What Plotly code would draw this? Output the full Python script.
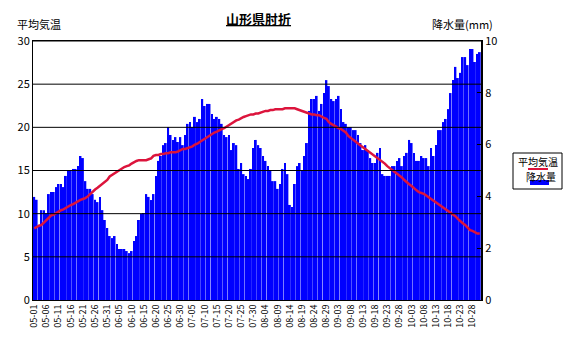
import pandas as pd
import plotly.graph_objects as go

# ---- data ----
dates = [d.strftime("%m-%d") for d in pd.date_range("2001-05-01", "2001-10-31")]

precip_mm = [
    3.98, 3.87, 2.90, 3.47, 3.47, 3.35, 4.09, 4.17, 4.17, 4.36,
    4.48, 4.48, 4.36, 4.79, 4.98, 4.98, 5.06, 5.06, 5.17, 5.56,
    5.48, 4.59, 4.29, 4.29, 4.09, 3.87, 3.78, 3.98, 3.47, 3.09,
    2.78, 2.47, 2.39, 2.47, 2.16, 1.97, 1.97, 1.97, 1.89, 1.81,
    1.89, 2.28, 2.47, 3.09, 3.32, 3.36, 4.09, 3.98, 3.86, 4.09,
    4.79, 5.37, 5.56, 5.98, 6.06, 6.68, 6.37, 6.18, 6.29, 6.10,
    6.29, 5.98, 6.37, 6.80, 6.87, 6.68, 7.07, 6.87, 6.99, 7.76,
    7.49, 7.57, 7.57, 7.18, 6.99, 7.07, 6.99, 6.80, 6.37, 6.29,
    6.37, 5.79, 6.06, 5.98, 5.06, 5.29, 4.86, 4.79, 4.67, 5.06,
    5.87, 6.18, 5.98, 5.87, 5.56, 5.37, 5.17, 4.98, 4.59, 4.59,
    4.29, 4.48, 5.06, 5.29, 4.86, 3.67, 3.59, 4.48, 5.17, 5.29,
    4.98, 5.56, 6.06, 7.30, 7.76, 7.76, 7.88, 7.30, 7.57, 7.99,
    8.49, 8.26, 7.76, 7.68, 7.76, 7.88, 7.37, 6.87, 6.80, 6.68,
    6.68, 6.56, 6.56, 6.37, 6.06, 5.79, 5.98, 5.79, 5.48, 5.29,
    5.29, 5.68, 5.87, 4.86, 4.79, 4.79, 4.79, 5.17, 5.17, 5.37,
    5.48, 5.17, 5.56, 5.68, 6.18, 6.06, 5.68, 5.37, 5.37, 5.56,
    5.48, 5.48, 5.17, 5.87, 5.56, 5.98, 6.56, 6.56, 6.87, 6.99,
    7.37, 7.99, 8.49, 9.00, 8.57, 8.77, 9.38, 9.38, 9.07, 9.69,
    9.69, 9.19, 9.50, 9.57,
]

avg_temp = [
    8.3, 8.5, 8.6, 8.7, 9.0, 9.3, 9.5, 9.8, 9.9, 10.1,
    10.2, 10.4, 10.5, 10.7, 10.8, 11.0, 11.1, 11.3, 11.5, 11.6,
    11.7, 11.8, 12.0, 12.3, 12.6, 12.8, 13.0, 13.2, 13.4, 13.6,
    13.9, 14.3, 14.5, 14.7, 14.9, 15.1, 15.2, 15.4, 15.5, 15.6,
    15.8, 16.0, 16.1, 16.2, 16.2, 16.2, 16.2, 16.3, 16.4, 16.7,
    16.8, 16.8, 16.9, 16.9, 17.0, 17.0, 17.1, 17.1, 17.1, 17.2,
    17.4, 17.5, 17.5, 17.6, 17.7, 17.8, 18.0, 18.1, 18.3, 18.5,
    18.6, 18.8, 19.0, 19.2, 19.4, 19.5, 19.7, 19.8, 19.9, 20.1,
    20.3, 20.4, 20.6, 20.8, 20.9, 21.1, 21.2, 21.3, 21.4, 21.5,
    21.5, 21.6, 21.6, 21.7, 21.8, 21.9, 21.9, 22.0, 22.0, 22.1,
    22.1, 22.1, 22.1, 22.2, 22.2, 22.2, 22.2, 22.2, 22.1, 22.0,
    21.9, 21.8, 21.7, 21.6, 21.5, 21.5, 21.4, 21.4, 21.2, 21.1,
    21.0, 20.6, 20.4, 20.2, 20.1, 19.9, 19.8, 19.6, 19.4, 19.0,
    18.8, 18.6, 18.4, 18.2, 17.9, 17.7, 17.5, 17.2, 17.0, 16.8,
    16.6, 16.4, 16.2, 16.0, 15.8, 15.5, 15.3, 15.1, 14.9, 14.6,
    14.4, 14.2, 13.9, 13.6, 13.4, 13.2, 12.9, 12.7, 12.5, 12.4,
    12.3, 12.1, 11.9, 11.7, 11.6, 11.4, 11.2, 10.9, 10.7, 10.5,
    10.3, 10.1, 9.9, 9.7, 9.4, 9.1, 8.9, 8.7, 8.4, 8.1,
    8.0, 7.8, 7.7, 7.7,
]

tick_labels = dates[::5]
temp_ticks = [0, 5, 10, 15, 20, 25, 30]
precip_ticks = [0, 2, 4, 6, 8, 10]

title_text = "山形県肘折"
temp_label = "平均気温"
precip_label = "降水量(mm)"
legend_temp = "平均気温"
legend_precip = "降水量"

# ---- layout geometry (pixels) ----
W, H = 574, 339
L, R, T, B = 33, 481, 41, 300
FONT = "Noto Sans CJK JP"
RED = "#DC143C"
BLUE = "#0000FF"


def px(x):
    return (x - L) / (R - L)


def py(y):
    return (B - y) / (B - T)


fig = go.Figure()
# precipitation bars on primary axis (right side) so the temperature line sits on top
fig.add_trace(go.Bar(
    x=dates, y=precip_mm, name=legend_precip, yaxis="y",
    marker=dict(color=BLUE, line=dict(width=0)),
))
fig.add_trace(go.Scatter(
    x=dates, y=avg_temp, name=legend_temp, mode="lines", yaxis="y2",
    line=dict(color=RED, width=2.5),
))

fig.update_layout(
    width=W, height=H,
    margin=dict(l=L, r=W - R, t=T, b=H - B),
    paper_bgcolor="white", plot_bgcolor="white",
    showlegend=False, bargap=0.22,
    font=dict(family=FONT, size=11, color="black"),
    xaxis=dict(
        type="category", tickmode="array", tickvals=tick_labels, ticktext=tick_labels,
        tickangle=-90, showgrid=False, showline=True, linecolor="black", linewidth=1,
        mirror=True, ticks="", tickfont=dict(size=9), range=[-0.5, len(dates) - 0.5],
    ),
    yaxis=dict(
        range=[0, 10], tickvals=precip_ticks, side="right",
        showgrid=False, showline=True, linecolor="black", linewidth=2, zeroline=False,
        ticks="inside", ticklen=4, tickcolor="black", tickfont=dict(size=11),
    ),
    yaxis2=dict(
        range=[0, 30], tickvals=temp_ticks, overlaying="y", side="left",
        showgrid=False, showline=True, linecolor="black", linewidth=1, zeroline=False,
        ticks="", tickfont=dict(size=11),
    ),
)

annotations = [
    dict(text="<b><u>" + title_text + "</u></b>", x=px(258), y=py(19), xref="paper", yref="paper",
         showarrow=False, font=dict(size=13), xanchor="center", yanchor="middle"),
    dict(text=temp_label, x=px(15), y=py(24), xref="paper", yref="paper",
         showarrow=False, font=dict(size=11), xanchor="left", yanchor="middle"),
    dict(text=precip_label, x=px(495), y=py(24), xref="paper", yref="paper",
         showarrow=False, font=dict(size=11), xanchor="right", yanchor="middle"),
    dict(text=legend_temp, x=px(538), y=py(161), xref="paper", yref="paper",
         showarrow=False, font=dict(size=10), xanchor="center", yanchor="middle"),
    dict(text=legend_precip, x=px(524), y=py(176), xref="paper", yref="paper",
         showarrow=False, font=dict(size=10), xanchor="left", yanchor="middle"),
]
fig.update_layout(annotations=annotations)

# horizontal grid lines drawn above the bars, as in the reference
shapes = [
    dict(type="line", xref="paper", yref="y2", x0=0, x1=1, y0=v, y1=v,
         line=dict(color="black", width=1), layer="above")
    for v in temp_ticks[1:]
]
shapes += [
    dict(type="rect", xref="paper", yref="paper", x0=px(513), x1=px(562), y0=py(153), y1=py(189),
         line=dict(color="black", width=1), fillcolor="white"),
    dict(type="line", xref="paper", yref="paper", x0=px(528), x1=px(548), y0=py(169), y1=py(169),
         line=dict(color=RED, width=2)),
    dict(type="rect", xref="paper", yref="paper", x0=px(530), x1=px(549), y0=py(180), y1=py(185),
         line=dict(width=0), fillcolor=BLUE),
]
fig.update_layout(shapes=shapes)

fig.write_html("out.html")
